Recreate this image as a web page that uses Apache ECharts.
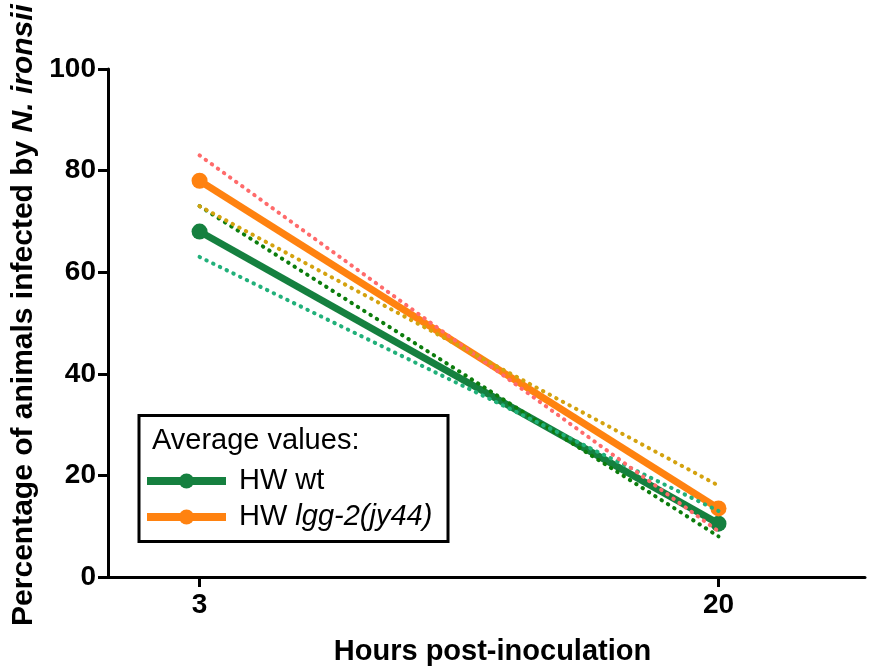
<!DOCTYPE html>
<html>
<head>
<meta charset="utf-8">
<script src="https://cdn.jsdelivr.net/npm/echarts@6/dist/echarts.min.js"></script>
<style>
  html, body { margin: 0; padding: 0; background: #fff; }
  #chart { width: 869px; height: 669px; }
</style>
</head>
<body>
<div id="chart"></div>
<script>
// hours post-inoculation
var hours = [3, 20];
// average values
var wtAvg = [68, 10.5];
var lggAvg = [78, 13.5];
// individual replicates (dotted)
var wtRep1 = [73, 8];
var wtRep2 = [63, 13];
var lggRep1 = [83, 9];
var lggRep2 = [73, 18];
var yTicks = [0, 20, 40, 60, 80, 100];

var FONT = "Liberation Sans";

function pairs(vals) {
  return hours.map(function (h, i) { return [h, vals[i]]; });
}

function dotted(name, color, vals) {
  return {
    name: name,
    type: "line",
    data: pairs(vals),
    symbol: "none",
    silent: true,
    z: 3,
    lineStyle: { color: color, width: 4, type: [0.5, 7], cap: "round" },
    animation: false
  };
}

function solid(name, color, vals) {
  return {
    name: name,
    type: "line",
    data: pairs(vals),
    symbol: "circle",
    symbolSize: 16,
    z: 2,
    itemStyle: { color: color },
    lineStyle: { color: color, width: 7 },
    animation: false
  };
}

var chart = echarts.init(document.getElementById("chart"));
chart.setOption({
  backgroundColor: "#fff",
  grid: { left: 108, right: 4, top: 69, bottom: 92, outerBoundsMode: "none" },
  xAxis: {
    type: "value",
    min: 0,
    max: 24.8,
    name: "Hours post-inoculation",
    nameLocation: "middle",
    nameGap: 60,
    nameTextStyle: {
      fontFamily: FONT, fontWeight: "bold", fontSize: 29, color: "#000",
      padding: [0, 0, 0, 12]
    },
    splitLine: { show: false },
    axisLine: { lineStyle: { color: "#000", width: 3 } },
    axisTick: { show: true, customValues: hours, length: 10, lineStyle: { color: "#000", width: 3 } },
    axisLabel: { customValues: hours, margin: 14, fontFamily: FONT, fontWeight: "bold", fontSize: 28, color: "#000" }
  },
  yAxis: {
    type: "value",
    min: 0,
    max: 100,
    interval: 20,
    name: "Percentage of animals infected by {i|N. ironsii}",
    nameLocation: "middle",
    nameGap: 66,
    nameTextStyle: {
      fontFamily: FONT, fontWeight: "bold", fontSize: 30, color: "#000",
      padding: [0, 0, 0, 16],
      rich: { i: { fontFamily: FONT, fontWeight: "bold", fontStyle: "italic", fontSize: 30, color: "#000" } }
    },
    splitLine: { show: false },
    axisLine: { show: true, lineStyle: { color: "#000", width: 3 } },
    axisTick: { show: true, length: 10, lineStyle: { color: "#000", width: 3 } },
    axisLabel: {
      margin: 12, fontFamily: FONT, fontWeight: "bold", fontSize: 28, color: "#000",
      formatter: function (v) { return yTicks.indexOf(v) >= 0 ? String(v) : ""; }
    }
  },
  legend: {
    data: ["HW wt", "HW lgg-2(jy44)"],
    orient: "vertical",
    left: 138,
    top: 461,
    itemWidth: 79,
    itemHeight: 19,
    itemGap: 6,
    selectedMode: false,
    lineStyle: { width: 8 },
    textStyle: {
      fontFamily: FONT, fontSize: 29, lineHeight: 30, color: "#000", padding: [0, 0, 0, 8],
      rich: { i: { fontFamily: FONT, fontSize: 29, lineHeight: 30, fontStyle: "italic", color: "#000" } }
    },
    formatter: function (n) {
      return n === "HW wt" ? n : "HW {i|lgg-2(jy44)}";
    }
  },
  graphic: [
    {
      type: "rect",
      z: 10,
      shape: { x: 139, y: 415.5, width: 309, height: 126 },
      style: { fill: "rgba(255,255,255,0)", stroke: "#000", lineWidth: 3 }
    },
    {
      type: "text",
      z: 10,
      left: 152,
      top: 426,
      style: { text: "Average values:", font: "29px " + FONT, fill: "#000" }
    }
  ],
  series: [
    solid("HW wt", "#15803f", wtAvg),
    solid("HW lgg-2(jy44)", "#ff8210", lggAvg),
    dotted("wt rep 1", "#0c7d0c", wtRep1),
    dotted("wt rep 2", "#21b07a", wtRep2),
    dotted("lgg rep 1", "#ff6b6b", lggRep1),
    dotted("lgg rep 2", "#d4a20f", lggRep2)
  ]
});
</script>
</body>
</html>
